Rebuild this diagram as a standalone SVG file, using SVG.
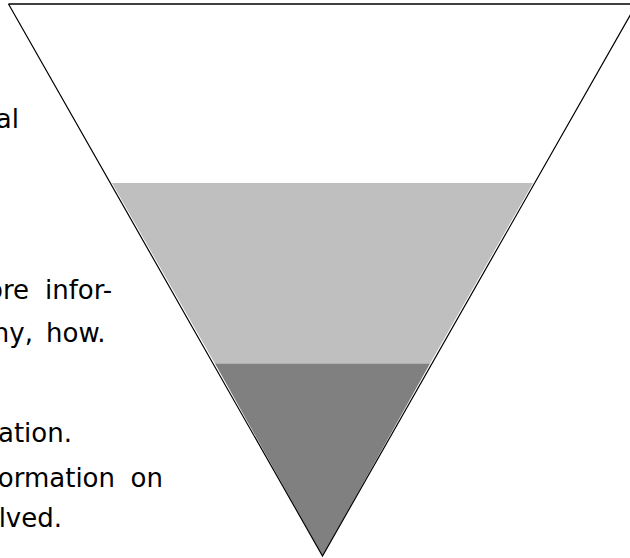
<svg xmlns="http://www.w3.org/2000/svg" width="630" height="558" viewBox="0 0 630 558">
<style>
text{font-family:"DejaVu Sans",sans-serif;font-size:26px;fill:#000}
.e{text-anchor:end}
</style>
<rect width="630" height="558" fill="#fff"/>
<g id="funnel">
<polygon points="8.5,4 636.5,4 322.5,556" fill="#fff"/>
<polygon points="112,183 533,183 430,363.5 215,363.5" fill="#bfbfbf"/>
<polygon points="215,363.5 430,363.5 322.5,556" fill="#808080"/>
<polyline points="8.5,4 322.5,556 636.5,4" fill="none" stroke="#000" stroke-width="1.2"/>
<line x1="8.5" y1="4" x2="630" y2="4" stroke="#000" stroke-width="1.5"/>
</g>
<g id="text">
<text class="e" x="19" y="128">al</text>
<text class="e" x="29" y="299">ore</text>
<text x="45" y="299">infor-</text>
<text class="e" x="33" y="342">hy,</text>
<text x="46" y="342">how.</text>
<text class="e" x="72" y="442">ation.</text>
<text class="e" x="115" y="487">ormation</text>
<text class="e" x="163" y="487">on</text>
<text class="e" x="62" y="527">lved.</text>
</g>
</svg>
